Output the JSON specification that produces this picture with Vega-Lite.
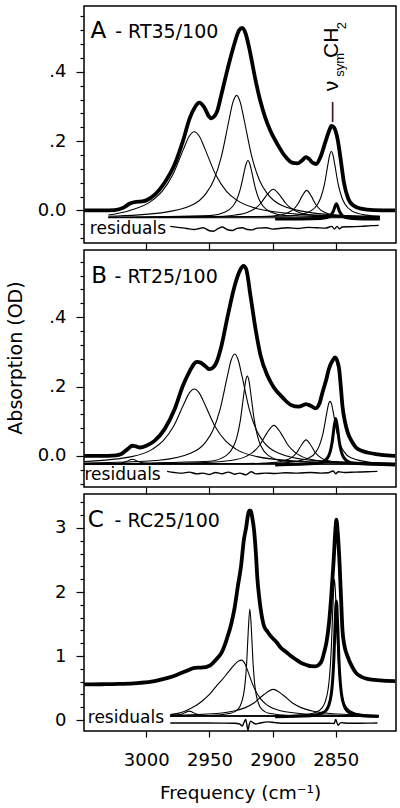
{
"$schema": "https://vega.github.io/schema/vega-lite/v6.json",
"padding": {"left": 5, "top": 5, "right": 4, "bottom": 0},
"spacing": 7,
"bounds": "flush",
"config": {
  "view": {"stroke": "black", "strokeWidth": 1.5},
  "axis": {"labelFont": "DejaVu Sans", "titleFont": "DejaVu Sans", "labelColor": "black", "titleColor": "black", "tickColor": "black", "domain": false, "grid": false, "labelFontSize": 18, "titleFontWeight": "normal", "tickWidth": 1.2}
},
"datasets": {
"A": [
{"s":"tot","f":3049,"v":0},{"s":"tot","f":3035,"v":0},{"s":"tot","f":3025,"v":0.001},{"s":"tot","f":3018,"v":0.008},{"s":"tot","f":3013,"v":0.02},{"s":"tot","f":3008,"v":0.025},{"s":"tot","f":3003,"v":0.026},{"s":"tot","f":3000,"v":0.029},{"s":"tot","f":2993,"v":0.046},{"s":"tot","f":2985.5,"v":0.08},{"s":"tot","f":2977.5,"v":0.133},{"s":"tot","f":2971,"v":0.2},{"s":"tot","f":2965.5,"v":0.267},{"s":"tot","f":2961.5,"v":0.298},{"s":"tot","f":2958,"v":0.311},{"s":"tot","f":2954,"v":0.297},{"s":"tot","f":2950.5,"v":0.272},{"s":"tot","f":2948.5,"v":0.266},{"s":"tot","f":2946,"v":0.272},{"s":"tot","f":2944,"v":0.285},{"s":"tot","f":2940.5,"v":0.335},{"s":"tot","f":2935.5,"v":0.41},{"s":"tot","f":2930,"v":0.484},{"s":"tot","f":2926.5,"v":0.52},{"s":"tot","f":2924,"v":0.527},{"s":"tot","f":2921.5,"v":0.512},{"s":"tot","f":2918,"v":0.46},{"s":"tot","f":2914,"v":0.385},{"s":"tot","f":2910,"v":0.32},{"s":"tot","f":2906,"v":0.27},{"s":"tot","f":2902,"v":0.232},{"s":"tot","f":2896,"v":0.19},{"s":"tot","f":2890,"v":0.156},{"s":"tot","f":2884,"v":0.137},{"s":"tot","f":2880,"v":0.136},{"s":"tot","f":2876.5,"v":0.145},{"s":"tot","f":2873.5,"v":0.154},{"s":"tot","f":2871,"v":0.148},{"s":"tot","f":2868,"v":0.137},{"s":"tot","f":2865.5,"v":0.134},{"s":"tot","f":2862,"v":0.155},{"s":"tot","f":2858,"v":0.2},{"s":"tot","f":2855,"v":0.232},{"s":"tot","f":2853.5,"v":0.244},{"s":"tot","f":2851.5,"v":0.24},{"s":"tot","f":2848.5,"v":0.205},{"s":"tot","f":2846,"v":0.145},{"s":"tot","f":2843.5,"v":0.08},{"s":"tot","f":2840,"v":0.033},{"s":"tot","f":2836,"v":0.014},{"s":"tot","f":2830,"v":0.005},{"s":"tot","f":2820,"v":0.001},{"s":"tot","f":2803,"v":0},
{"s":"c0","f":3030,"v":-0.021},{"s":"c0","f":2815,"v":-0.021},
{"s":"c1","f":3030,"v":-0.013},{"s":"c1","f":3013,"v":0.0},{"s":"c1","f":2996,"v":0.027},{"s":"c1","f":2987.5,"v":0.055},{"s":"c1","f":2979,"v":0.103},{"s":"c1","f":2970.5,"v":0.177},{"s":"c1","f":2966,"v":0.214},{"s":"c1","f":2962,"v":0.227},{"s":"c1","f":2958,"v":0.214},{"s":"c1","f":2953.5,"v":0.177},{"s":"c1","f":2945,"v":0.103},{"s":"c1","f":2936.5,"v":0.055},{"s":"c1","f":2928,"v":0.029},{"s":"c1","f":2911,"v":0.004},{"s":"c1","f":2877,"v":-0.0115},{"s":"c1","f":2845,"v":-0.016},{"s":"c1","f":2815,"v":-0.018},
{"s":"c2","f":3030,"v":-0.017},{"s":"c2","f":2988.5,"v":-0.007},{"s":"c2","f":2964.5,"v":0.014},{"s":"c2","f":2952.5,"v":0.05},{"s":"c2","f":2946.5,"v":0.088},{"s":"c2","f":2940.5,"v":0.156},{"s":"c2","f":2934.5,"v":0.261},{"s":"c2","f":2931.5,"v":0.311},{"s":"c2","f":2928.5,"v":0.332},{"s":"c2","f":2925.5,"v":0.311},{"s":"c2","f":2922.5,"v":0.261},{"s":"c2","f":2916.5,"v":0.156},{"s":"c2","f":2910.5,"v":0.088},{"s":"c2","f":2904.5,"v":0.05},{"s":"c2","f":2892.5,"v":0.014},{"s":"c2","f":2868.5,"v":-0.007},{"s":"c2","f":2840,"v":-0.0146},{"s":"c2","f":2815,"v":-0.017},
{"s":"c3","f":3030,"v":-0.02},{"s":"c3","f":2949.5,"v":-0.015},{"s":"c3","f":2937.5,"v":-0.0045},{"s":"c3","f":2931.5,"v":0.012},{"s":"c3","f":2928.5,"v":0.03},{"s":"c3","f":2925.5,"v":0.062},{"s":"c3","f":2922.5,"v":0.111},{"s":"c3","f":2921,"v":0.134},{"s":"c3","f":2919.5,"v":0.144},{"s":"c3","f":2918,"v":0.134},{"s":"c3","f":2916.5,"v":0.111},{"s":"c3","f":2913.5,"v":0.062},{"s":"c3","f":2910.5,"v":0.03},{"s":"c3","f":2907.5,"v":0.012},{"s":"c3","f":2901.5,"v":-0.0045},{"s":"c3","f":2889.5,"v":-0.015},{"s":"c3","f":2815,"v":-0.02},
{"s":"c4","f":3030,"v":-0.0205},{"s":"c4","f":2949.5,"v":-0.018},{"s":"c4","f":2929.5,"v":-0.013},{"s":"c4","f":2919.5,"v":-0.005},{"s":"c4","f":2914.5,"v":0.004},{"s":"c4","f":2909.5,"v":0.02},{"s":"c4","f":2904.5,"v":0.045},{"s":"c4","f":2899.5,"v":0.061},{"s":"c4","f":2894.5,"v":0.045},{"s":"c4","f":2889.5,"v":0.02},{"s":"c4","f":2884.5,"v":0.004},{"s":"c4","f":2879.5,"v":-0.005},{"s":"c4","f":2869.5,"v":-0.013},{"s":"c4","f":2849.5,"v":-0.018},{"s":"c4","f":2815,"v":-0.0195},
{"s":"c5","f":3030,"v":-0.0205},{"s":"c5","f":2908,"v":-0.018},{"s":"c5","f":2894,"v":-0.013},{"s":"c5","f":2887,"v":-0.005},{"s":"c5","f":2883.5,"v":0.003},{"s":"c5","f":2880,"v":0.0185},{"s":"c5","f":2876.5,"v":0.042},{"s":"c5","f":2873,"v":0.058},{"s":"c5","f":2869.5,"v":0.042},{"s":"c5","f":2866,"v":0.0185},{"s":"c5","f":2862.5,"v":0.003},{"s":"c5","f":2859,"v":-0.005},{"s":"c5","f":2852,"v":-0.013},{"s":"c5","f":2838,"v":-0.018},{"s":"c5","f":2815,"v":-0.0195},
{"s":"c6","f":3030,"v":-0.0205},{"s":"c6","f":2892,"v":-0.017},{"s":"c6","f":2881,"v":-0.0136},{"s":"c6","f":2870,"v":-0.002},{"s":"c6","f":2864.5,"v":0.017},{"s":"c6","f":2861.75,"v":0.038},{"s":"c6","f":2859,"v":0.0745},{"s":"c6","f":2856.25,"v":0.132},{"s":"c6","f":2855,"v":0.157},{"s":"c6","f":2853.5,"v":0.17},{"s":"c6","f":2852,"v":0.157},{"s":"c6","f":2850.75,"v":0.132},{"s":"c6","f":2848,"v":0.0745},{"s":"c6","f":2845.25,"v":0.038},{"s":"c6","f":2842.5,"v":0.017},{"s":"c6","f":2837,"v":-0.002},{"s":"c6","f":2826,"v":-0.0136},{"s":"c6","f":2815,"v":-0.017},
{"s":"k","f":2898,"v":-0.025},{"s":"k","f":2862,"v":-0.023},{"s":"k","f":2857,"v":-0.0206},{"s":"k","f":2854.5,"v":-0.016},{"s":"k","f":2852,"v":-0.003},{"s":"k","f":2849.5,"v":0.019},{"s":"k","f":2847,"v":-0.003},{"s":"k","f":2844.5,"v":-0.016},{"s":"k","f":2842,"v":-0.0206},{"s":"k","f":2837,"v":-0.023},{"s":"k","f":2815,"v":-0.025},
{"s":"r","f":2981,"v":-0.046},{"s":"r","f":2975,"v":-0.049},{"s":"r","f":2968,"v":-0.052},{"s":"r","f":2962,"v":-0.055},{"s":"r","f":2958,"v":-0.052},{"s":"r","f":2955,"v":-0.05},{"s":"r","f":2950.5,"v":-0.058},{"s":"r","f":2947,"v":-0.06},{"s":"r","f":2943,"v":-0.052},{"s":"r","f":2940,"v":-0.048},{"s":"r","f":2936,"v":-0.055},{"s":"r","f":2932,"v":-0.058},{"s":"r","f":2928,"v":-0.052},{"s":"r","f":2924,"v":-0.05},{"s":"r","f":2920,"v":-0.055},{"s":"r","f":2916,"v":-0.056},{"s":"r","f":2912,"v":-0.051},{"s":"r","f":2905,"v":-0.05},{"s":"r","f":2900,"v":-0.054},{"s":"r","f":2895,"v":-0.052},{"s":"r","f":2888,"v":-0.05},{"s":"r","f":2880,"v":-0.052},{"s":"r","f":2872,"v":-0.049},{"s":"r","f":2865,"v":-0.05},{"s":"r","f":2858,"v":-0.051},{"s":"r","f":2853,"v":-0.046},{"s":"r","f":2851,"v":-0.054},{"s":"r","f":2849,"v":-0.046},{"s":"r","f":2847,"v":-0.053},{"s":"r","f":2845,"v":-0.048},{"s":"r","f":2838,"v":-0.047},{"s":"r","f":2830,"v":-0.046},{"s":"r","f":2822,"v":-0.044},{"s":"r","f":2816,"v":-0.043}
],
"B": [
{"s":"tot","f":3049,"v":0},{"s":"tot","f":3030,"v":0},{"s":"tot","f":3024,"v":0.001},{"s":"tot","f":3019.5,"v":0.006},{"s":"tot","f":3014.5,"v":0.02},{"s":"tot","f":3011,"v":0.029},{"s":"tot","f":3008,"v":0.027},{"s":"tot","f":3005,"v":0.024},{"s":"tot","f":3000,"v":0.029},{"s":"tot","f":2993.5,"v":0.043},{"s":"tot","f":2985.5,"v":0.077},{"s":"tot","f":2977.5,"v":0.135},{"s":"tot","f":2971,"v":0.202},{"s":"tot","f":2965.5,"v":0.245},{"s":"tot","f":2962,"v":0.266},{"s":"tot","f":2960,"v":0.271},{"s":"tot","f":2957,"v":0.269},{"s":"tot","f":2953,"v":0.258},{"s":"tot","f":2950,"v":0.25},{"s":"tot","f":2947,"v":0.255},{"s":"tot","f":2944.5,"v":0.269},{"s":"tot","f":2940.5,"v":0.317},{"s":"tot","f":2935.5,"v":0.404},{"s":"tot","f":2930,"v":0.491},{"s":"tot","f":2926,"v":0.534},{"s":"tot","f":2923,"v":0.548},{"s":"tot","f":2921,"v":0.54},{"s":"tot","f":2917.5,"v":0.462},{"s":"tot","f":2913.5,"v":0.366},{"s":"tot","f":2909.5,"v":0.289},{"s":"tot","f":2904,"v":0.231},{"s":"tot","f":2899,"v":0.197},{"s":"tot","f":2892,"v":0.168},{"s":"tot","f":2885.5,"v":0.147},{"s":"tot","f":2879,"v":0.142},{"s":"tot","f":2876,"v":0.146},{"s":"tot","f":2873.5,"v":0.149},{"s":"tot","f":2871.5,"v":0.147},{"s":"tot","f":2869.5,"v":0.144},{"s":"tot","f":2866,"v":0.137},{"s":"tot","f":2863,"v":0.15},{"s":"tot","f":2860.5,"v":0.183},{"s":"tot","f":2857.5,"v":0.22},{"s":"tot","f":2855.5,"v":0.25},{"s":"tot","f":2852.5,"v":0.275},{"s":"tot","f":2850.5,"v":0.284},{"s":"tot","f":2848.5,"v":0.27},{"s":"tot","f":2847.3,"v":0.25},{"s":"tot","f":2846,"v":0.2},{"s":"tot","f":2844.7,"v":0.144},{"s":"tot","f":2842.5,"v":0.095},{"s":"tot","f":2840.5,"v":0.067},{"s":"tot","f":2837,"v":0.04},{"s":"tot","f":2834,"v":0.024},{"s":"tot","f":2829,"v":0.014},{"s":"tot","f":2825,"v":0.0095},{"s":"tot","f":2814,"v":0.003},{"s":"tot","f":2803,"v":0},
{"s":"c0","f":3049,"v":-0.024},{"s":"c0","f":2803,"v":-0.024},
{"s":"c7","f":3049,"v":-0.0235},{"s":"c7","f":3025,"v":-0.0224},{"s":"c7","f":3019,"v":-0.02},{"s":"c7","f":3015,"v":-0.0155},{"s":"c7","f":3013,"v":-0.012},{"s":"c7","f":3011,"v":-0.01},{"s":"c7","f":3009,"v":-0.012},{"s":"c7","f":3007,"v":-0.0155},{"s":"c7","f":3003,"v":-0.02},{"s":"c7","f":2997,"v":-0.0224},{"s":"c7","f":2803,"v":-0.024},
{"s":"c1","f":3049,"v":-0.0164},{"s":"c1","f":3011.5,"v":-0.0023},{"s":"c1","f":2995,"v":0.0194},{"s":"c1","f":2986.75,"v":0.0428},{"s":"c1","f":2978.5,"v":0.0845},{"s":"c1","f":2970.25,"v":0.1496},{"s":"c1","f":2966,"v":0.181},{"s":"c1","f":2962,"v":0.193},{"s":"c1","f":2958,"v":0.181},{"s":"c1","f":2953.75,"v":0.1496},{"s":"c1","f":2945.5,"v":0.0845},{"s":"c1","f":2937.25,"v":0.0428},{"s":"c1","f":2929,"v":0.0194},{"s":"c1","f":2912.5,"v":-0.0023},{"s":"c1","f":2879.5,"v":-0.0157},{"s":"c1","f":2840,"v":-0.0201},{"s":"c1","f":2803,"v":-0.0217},
{"s":"c2","f":3049,"v":-0.021},{"s":"c2","f":2990,"v":-0.0127},{"s":"c2","f":2964.5,"v":0.0078},{"s":"c2","f":2953,"v":0.0396},{"s":"c2","f":2947.25,"v":0.0739},{"s":"c2","f":2941.5,"v":0.135},{"s":"c2","f":2935.75,"v":0.2304},{"s":"c2","f":2932.9,"v":0.2752},{"s":"c2","f":2930,"v":0.294},{"s":"c2","f":2927.1,"v":0.2752},{"s":"c2","f":2924.25,"v":0.2304},{"s":"c2","f":2918.5,"v":0.135},{"s":"c2","f":2912.75,"v":0.0739},{"s":"c2","f":2907,"v":0.0396},{"s":"c2","f":2895.5,"v":0.0078},{"s":"c2","f":2870,"v":-0.0127},{"s":"c2","f":2803,"v":-0.0214},
{"s":"c3","f":3049,"v":-0.0235},{"s":"c3","f":2950,"v":-0.0157},{"s":"c3","f":2936.5,"v":0.0014},{"s":"c3","f":2931,"v":0.0268},{"s":"c3","f":2928.25,"v":0.0542},{"s":"c3","f":2925.5,"v":0.103},{"s":"c3","f":2922.75,"v":0.179},{"s":"c3","f":2921.4,"v":0.215},{"s":"c3","f":2920,"v":0.23},{"s":"c3","f":2918.6,"v":0.215},{"s":"c3","f":2917.25,"v":0.179},{"s":"c3","f":2914.5,"v":0.103},{"s":"c3","f":2911.75,"v":0.0542},{"s":"c3","f":2909,"v":0.0268},{"s":"c3","f":2903.5,"v":0.0014},{"s":"c3","f":2890,"v":-0.0157},{"s":"c3","f":2803,"v":-0.0235},
{"s":"c4","f":3049,"v":-0.0235},{"s":"c4","f":2960,"v":-0.0204},{"s":"c4","f":2932,"v":-0.0128},{"s":"c4","f":2921,"v":-0.0016},{"s":"c4","f":2915.5,"v":0.0105},{"s":"c4","f":2910,"v":0.032},{"s":"c4","f":2904.5,"v":0.0656},{"s":"c4","f":2899,"v":0.088},{"s":"c4","f":2893.5,"v":0.0656},{"s":"c4","f":2888,"v":0.032},{"s":"c4","f":2882.5,"v":0.0105},{"s":"c4","f":2877,"v":-0.0016},{"s":"c4","f":2866,"v":-0.0128},{"s":"c4","f":2840,"v":-0.0203},{"s":"c4","f":2803,"v":-0.0225},
{"s":"c5","f":3049,"v":-0.024},{"s":"c5","f":2930,"v":-0.023},{"s":"c5","f":2908.5,"v":-0.0213},{"s":"c5","f":2894.5,"v":-0.017},{"s":"c5","f":2887.5,"v":-0.01},{"s":"c5","f":2884,"v":-0.0024},{"s":"c5","f":2880.5,"v":0.011},{"s":"c5","f":2877,"v":0.032},{"s":"c5","f":2873.5,"v":0.046},{"s":"c5","f":2870,"v":0.032},{"s":"c5","f":2866.5,"v":0.011},{"s":"c5","f":2863,"v":-0.0024},{"s":"c5","f":2859.5,"v":-0.01},{"s":"c5","f":2852.5,"v":-0.017},{"s":"c5","f":2838.5,"v":-0.0213},{"s":"c5","f":2803,"v":-0.0235},
{"s":"c6","f":3049,"v":-0.024},{"s":"c6","f":2920,"v":-0.0227},{"s":"c6","f":2887.5,"v":-0.0191},{"s":"c6","f":2871,"v":-0.0059},{"s":"c6","f":2865.5,"v":0.0122},{"s":"c6","f":2862.75,"v":0.0317},{"s":"c6","f":2860,"v":0.0665},{"s":"c6","f":2857.25,"v":0.1208},{"s":"c6","f":2855.9,"v":0.1463},{"s":"c6","f":2854.5,"v":0.157},{"s":"c6","f":2853.1,"v":0.1463},{"s":"c6","f":2851.75,"v":0.1208},{"s":"c6","f":2849,"v":0.0665},{"s":"c6","f":2846.25,"v":0.0317},{"s":"c6","f":2843.5,"v":0.0122},{"s":"c6","f":2838,"v":-0.0059},{"s":"c6","f":2821.5,"v":-0.0191},{"s":"c6","f":2803,"v":-0.022},
{"s":"k","f":2898,"v":-0.0265},{"s":"k","f":2864,"v":-0.0218},{"s":"k","f":2858.4,"v":-0.0135},{"s":"k","f":2855.6,"v":0.0},{"s":"k","f":2854.2,"v":0.0146},{"s":"k","f":2852.8,"v":0.0405},{"s":"k","f":2851.4,"v":0.081},{"s":"k","f":2850,"v":0.108},{"s":"k","f":2848.6,"v":0.081},{"s":"k","f":2847.2,"v":0.0405},{"s":"k","f":2845.8,"v":0.0146},{"s":"k","f":2844.4,"v":0.0},{"s":"k","f":2841.6,"v":-0.0135},{"s":"k","f":2836,"v":-0.0218},{"s":"k","f":2803,"v":-0.0265},
{"s":"r","f":2983.5,"v":-0.045},{"s":"r","f":2978,"v":-0.048},{"s":"r","f":2972,"v":-0.05},{"s":"r","f":2966,"v":-0.047},{"s":"r","f":2960,"v":-0.052},{"s":"r","f":2955,"v":-0.05},{"s":"r","f":2950,"v":-0.054},{"s":"r","f":2945,"v":-0.048},{"s":"r","f":2940,"v":-0.052},{"s":"r","f":2935,"v":-0.047},{"s":"r","f":2930,"v":-0.053},{"s":"r","f":2926,"v":-0.05},{"s":"r","f":2921,"v":-0.055},{"s":"r","f":2917,"v":-0.046},{"s":"r","f":2913,"v":-0.052},{"s":"r","f":2906,"v":-0.05},{"s":"r","f":2898,"v":-0.051},{"s":"r","f":2890,"v":-0.049},{"s":"r","f":2880,"v":-0.05},{"s":"r","f":2870,"v":-0.048},{"s":"r","f":2862,"v":-0.05},{"s":"r","f":2856,"v":-0.049},{"s":"r","f":2852,"v":-0.044},{"s":"r","f":2850,"v":-0.052},{"s":"r","f":2848,"v":-0.046},{"s":"r","f":2843,"v":-0.048},{"s":"r","f":2835,"v":-0.047},{"s":"r","f":2825,"v":-0.046},{"s":"r","f":2817,"v":-0.045}
],
"C": [
{"s":"tot","f":3049,"v":0.557},{"s":"tot","f":3035,"v":0.56},{"s":"tot","f":3022,"v":0.565},{"s":"tot","f":3010,"v":0.575},{"s":"tot","f":2996,"v":0.6},{"s":"tot","f":2990,"v":0.625},{"s":"tot","f":2983,"v":0.66},{"s":"tot","f":2976,"v":0.705},{"s":"tot","f":2970,"v":0.754},{"s":"tot","f":2965,"v":0.795},{"s":"tot","f":2961.5,"v":0.816},{"s":"tot","f":2958,"v":0.82},{"s":"tot","f":2955,"v":0.822},{"s":"tot","f":2951,"v":0.84},{"s":"tot","f":2948.5,"v":0.87},{"s":"tot","f":2944.5,"v":0.95},{"s":"tot","f":2940.5,"v":1.05},{"s":"tot","f":2936.5,"v":1.25},{"s":"tot","f":2932.5,"v":1.52},{"s":"tot","f":2930,"v":1.76},{"s":"tot","f":2927.5,"v":2.09},{"s":"tot","f":2925,"v":2.4},{"s":"tot","f":2922.7,"v":2.82},{"s":"tot","f":2921,"v":3.0},{"s":"tot","f":2919.5,"v":3.2},{"s":"tot","f":2918.5,"v":3.27},{"s":"tot","f":2917.5,"v":3.27},{"s":"tot","f":2916,"v":3.15},{"s":"tot","f":2914.7,"v":2.97},{"s":"tot","f":2913.2,"v":2.6},{"s":"tot","f":2912,"v":2.2},{"s":"tot","f":2910.5,"v":1.9},{"s":"tot","f":2909.4,"v":1.73},{"s":"tot","f":2906.8,"v":1.47},{"s":"tot","f":2904,"v":1.38},{"s":"tot","f":2901.5,"v":1.31},{"s":"tot","f":2897,"v":1.22},{"s":"tot","f":2893.5,"v":1.13},{"s":"tot","f":2889,"v":1.06},{"s":"tot","f":2885.5,"v":1.0},{"s":"tot","f":2881,"v":0.94},{"s":"tot","f":2877.5,"v":0.894},{"s":"tot","f":2873,"v":0.86},{"s":"tot","f":2869.8,"v":0.842},{"s":"tot","f":2866,"v":0.84},{"s":"tot","f":2863,"v":0.87},{"s":"tot","f":2861,"v":0.93},{"s":"tot","f":2859.3,"v":1.05},{"s":"tot","f":2857.3,"v":1.22},{"s":"tot","f":2855.3,"v":1.52},{"s":"tot","f":2853.5,"v":1.95},{"s":"tot","f":2851.8,"v":2.45},{"s":"tot","f":2850.5,"v":2.9},{"s":"tot","f":2849.5,"v":3.13},{"s":"tot","f":2848.5,"v":2.95},{"s":"tot","f":2847,"v":2.45},{"s":"tot","f":2845.8,"v":1.9},{"s":"tot","f":2844.7,"v":1.41},{"s":"tot","f":2843,"v":1.15},{"s":"tot","f":2840.7,"v":1.0},{"s":"tot","f":2837.5,"v":0.85},{"s":"tot","f":2834,"v":0.738},{"s":"tot","f":2830,"v":0.68},{"s":"tot","f":2825,"v":0.644},{"s":"tot","f":2815,"v":0.62},{"s":"tot","f":2803,"v":0.608},
{"s":"c0","f":2981,"v":0.062},{"s":"c0","f":2816,"v":0.062},
{"s":"c1","f":2981,"v":0.0698},{"s":"c1","f":2976,"v":0.0776},{"s":"c1","f":2973.5,"v":0.086},{"s":"c1","f":2971,"v":0.101},{"s":"c1","f":2968.5,"v":0.1244},{"s":"c1","f":2966,"v":0.14},{"s":"c1","f":2963.5,"v":0.1244},{"s":"c1","f":2961,"v":0.101},{"s":"c1","f":2958.5,"v":0.086},{"s":"c1","f":2956,"v":0.0776},{"s":"c1","f":2951,"v":0.0698},{"s":"c1","f":2941,"v":0.065},{"s":"c1","f":2816,"v":0.062},
{"s":"c2","f":2981,"v":0.085},{"s":"c2","f":2975,"v":0.105},{"s":"c2","f":2970,"v":0.135},{"s":"c2","f":2965,"v":0.18},{"s":"c2","f":2960,"v":0.235},{"s":"c2","f":2955,"v":0.31},{"s":"c2","f":2950,"v":0.4},{"s":"c2","f":2945,"v":0.52},{"s":"c2","f":2941,"v":0.608},{"s":"c2","f":2937,"v":0.7},{"s":"c2","f":2933,"v":0.8},{"s":"c2","f":2929,"v":0.89},{"s":"c2","f":2926.5,"v":0.925},{"s":"c2","f":2924.5,"v":0.936},{"s":"c2","f":2922,"v":0.884},{"s":"c2","f":2919.5,"v":0.761},{"s":"c2","f":2917,"v":0.621},{"s":"c2","f":2914.5,"v":0.499},{"s":"c2","f":2909.5,"v":0.331},{"s":"c2","f":2904.5,"v":0.237},{"s":"c2","f":2894.5,"v":0.149},{"s":"c2","f":2874.5,"v":0.096},{"s":"c2","f":2850,"v":0.077},{"s":"c2","f":2816,"v":0.069},
{"s":"c3","f":2981,"v":0.065},{"s":"c3","f":2950,"v":0.072},{"s":"c3","f":2933,"v":0.107},{"s":"c3","f":2928,"v":0.16},{"s":"c3","f":2925.5,"v":0.229},{"s":"c3","f":2923,"v":0.397},{"s":"c3","f":2921.75,"v":0.577},{"s":"c3","f":2920.5,"v":0.899},{"s":"c3","f":2919.25,"v":1.4},{"s":"c3","f":2918,"v":1.735},{"s":"c3","f":2916.75,"v":1.4},{"s":"c3","f":2915.5,"v":0.899},{"s":"c3","f":2914.25,"v":0.577},{"s":"c3","f":2913,"v":0.397},{"s":"c3","f":2910.5,"v":0.229},{"s":"c3","f":2908,"v":0.16},{"s":"c3","f":2903,"v":0.107},{"s":"c3","f":2886,"v":0.072},{"s":"c3","f":2855,"v":0.065},{"s":"c3","f":2816,"v":0.064},
{"s":"c4","f":2981,"v":0.076},{"s":"c4","f":2944.5,"v":0.104},{"s":"c4","f":2929.5,"v":0.146},{"s":"c4","f":2922,"v":0.191},{"s":"c4","f":2914.5,"v":0.271},{"s":"c4","f":2907,"v":0.396},{"s":"c4","f":2899.5,"v":0.48},{"s":"c4","f":2892,"v":0.396},{"s":"c4","f":2884.5,"v":0.271},{"s":"c4","f":2877,"v":0.191},{"s":"c4","f":2869.5,"v":0.146},{"s":"c4","f":2854.5,"v":0.104},{"s":"c4","f":2826,"v":0.079},{"s":"c4","f":2816,"v":0.075},
{"s":"c5","f":2981,"v":0.063},{"s":"c5","f":2900,"v":0.068},{"s":"c5","f":2876,"v":0.083},{"s":"c5","f":2866,"v":0.12},{"s":"c5","f":2861,"v":0.188},{"s":"c5","f":2858.5,"v":0.276},{"s":"c5","f":2856,"v":0.49},{"s":"c5","f":2854.75,"v":0.72},{"s":"c5","f":2853.5,"v":1.131},{"s":"c5","f":2852.25,"v":1.77},{"s":"c5","f":2851,"v":2.2},{"s":"c5","f":2849.75,"v":1.77},{"s":"c5","f":2848.5,"v":1.131},{"s":"c5","f":2847.25,"v":0.72},{"s":"c5","f":2846,"v":0.49},{"s":"c5","f":2843.5,"v":0.276},{"s":"c5","f":2841,"v":0.188},{"s":"c5","f":2836,"v":0.12},{"s":"c5","f":2826,"v":0.083},{"s":"c5","f":2816,"v":0.073},
{"s":"k","f":2898,"v":0.053},{"s":"k","f":2870,"v":0.068},{"s":"k","f":2859.5,"v":0.12},{"s":"k","f":2855.5,"v":0.231},{"s":"k","f":2853.5,"v":0.412},{"s":"k","f":2852.5,"v":0.607},{"s":"k","f":2851.5,"v":0.955},{"s":"k","f":2850.5,"v":1.498},{"s":"k","f":2849.5,"v":1.86},{"s":"k","f":2848.5,"v":1.498},{"s":"k","f":2847.5,"v":0.955},{"s":"k","f":2846.5,"v":0.607},{"s":"k","f":2845.5,"v":0.412},{"s":"k","f":2843.5,"v":0.231},{"s":"k","f":2839.5,"v":0.12},{"s":"k","f":2829,"v":0.068},{"s":"k","f":2816,"v":0.057},
{"s":"r","f":2981,"v":-0.045},{"s":"r","f":2960,"v":-0.046},{"s":"r","f":2940,"v":-0.047},{"s":"r","f":2930,"v":-0.05},{"s":"r","f":2926,"v":-0.06},{"s":"r","f":2924,"v":-0.094},{"s":"r","f":2922.5,"v":-0.03},{"s":"r","f":2921.3,"v":0.01},{"s":"r","f":2920.3,"v":-0.08},{"s":"r","f":2919.5,"v":-0.16},{"s":"r","f":2918.5,"v":-0.07},{"s":"r","f":2917.4,"v":-0.016},{"s":"r","f":2915.5,"v":-0.04},{"s":"r","f":2913.4,"v":-0.06},{"s":"r","f":2910,"v":-0.045},{"s":"r","f":2904,"v":-0.027},{"s":"r","f":2898,"v":-0.04},{"s":"r","f":2890,"v":-0.05},{"s":"r","f":2870,"v":-0.05},{"s":"r","f":2855,"v":-0.05},{"s":"r","f":2851.3,"v":-0.052},{"s":"r","f":2850,"v":0.01},{"s":"r","f":2848.2,"v":-0.08},{"s":"r","f":2846,"v":-0.04},{"s":"r","f":2840,"v":-0.05},{"s":"r","f":2825,"v":-0.047},{"s":"r","f":2817,"v":-0.046}
]
},
"vconcat": [
{
 "width": 312, "height": 237,
 "data": {"name": "A"},
 "encoding": {
  "x": {"field": "f", "type": "quantitative", "scale": {"domain": [2802.3, 3049.3], "reverse": true, "nice": false, "zero": false},
        "axis": {"title": null, "labels": false, "values": [3000, 2950, 2900, 2850], "tickSize": 7}},
  "y": {"field": "v", "type": "quantitative", "scale": {"domain": [-0.094, 0.59], "nice": false, "zero": false},
        "axis": {"title": null, "values": [-0.08,-0.04,0,0.04,0.08,0.12,0.16,0.2,0.24,0.28,0.32,0.36,0.4,0.44,0.48,0.52,0.56],
                 "labelExpr": "abs(datum.value*5-round(datum.value*5))<0.001 ? (abs(datum.value)<0.001 ? '0.0' : replace(format(datum.value,'.1f'),'0.','.')) : ''",
                 "tickSize": {"condition": {"test": "abs(datum.value*5-round(datum.value*5))<0.001", "value": 8}, "value": 4},
                 "labelPadding": 10}}
 },
 "layer": [
  {"transform": [{"filter": {"field": "s", "oneOf": ["c0","c1","c2","c3","c4","c5","c6"]}}], "mark": {"type": "line", "color": "black", "strokeWidth": 1.1, "interpolate": "monotone", "clip": true}, "encoding": {"detail": {"field": "s"}}},
  {"transform": [{"filter": {"field": "s", "equal": "k"}}], "mark": {"type": "line", "color": "black", "strokeWidth": 3, "interpolate": "monotone", "clip": true}, "encoding": {}},
  {"transform": [{"filter": {"field": "s", "equal": "r"}}], "mark": {"type": "line", "color": "black", "strokeWidth": 1.4, "interpolate": "monotone", "clip": true}, "encoding": {}},
  {"transform": [{"filter": {"field": "s", "equal": "tot"}}], "mark": {"type": "line", "color": "black", "strokeWidth": 3.8, "interpolate": "monotone", "clip": true}, "encoding": {}},
  {"transform": [{"filter": "datum.s=='c0' && datum.f>2900"}], "mark": {"type": "text", "text": "A", "font": "DejaVu Sans", "fontSize": 23, "align": "left", "baseline": "alphabetic", "color": "black"}, "encoding": {"x": {"datum": 3044.1}, "y": {"datum": 0.498}}},
  {"transform": [{"filter": "datum.s=='c0' && datum.f>2900"}], "mark": {"type": "text", "text": "- RT35/100", "font": "DejaVu Sans", "fontSize": 19, "align": "left", "baseline": "alphabetic", "color": "black"}, "encoding": {"x": {"datum": 3024.6}, "y": {"datum": 0.498}}},
  {"transform": [{"filter": "datum.s=='c0' && datum.f>2900"}], "mark": {"type": "text", "text": "residuals", "font": "DejaVu Sans", "fontSize": 17, "align": "left", "baseline": "alphabetic", "color": "black"}, "encoding": {"x": {"datum": 3044.7}, "y": {"datum": -0.068}}},
  {"transform": [{"filter": "datum.s=='c0' && datum.f>2900"}], "mark": {"type": "text", "text": "—", "font": "Liberation Sans", "fontSize": 20, "angle": 270, "align": "left", "baseline": "alphabetic", "color": "black"}, "encoding": {"x": {"datum": 2848.0}, "y": {"datum": 0.255}}},
  {"transform": [{"filter": "datum.s=='c0' && datum.f>2900"}], "mark": {"type": "text", "text": "ν", "font": "Liberation Sans", "fontSize": 21, "angle": 270, "align": "left", "baseline": "alphabetic", "color": "black"}, "encoding": {"x": {"datum": 2848.0}, "y": {"datum": 0.344}}},
  {"transform": [{"filter": "datum.s=='c0' && datum.f>2900"}], "mark": {"type": "text", "text": "sym", "font": "Liberation Sans", "fontSize": 13, "angle": 270, "align": "left", "baseline": "alphabetic", "color": "black"}, "encoding": {"x": {"datum": 2843.3}, "y": {"datum": 0.386}}},
  {"transform": [{"filter": "datum.s=='c0' && datum.f>2900"}], "mark": {"type": "text", "text": "CH", "font": "Liberation Sans", "fontSize": 21, "angle": 270, "align": "left", "baseline": "alphabetic", "color": "black"}, "encoding": {"x": {"datum": 2848.0}, "y": {"datum": 0.44}}},
  {"transform": [{"filter": "datum.s=='c0' && datum.f>2900"}], "mark": {"type": "text", "text": "2", "font": "Liberation Sans", "fontSize": 13, "angle": 270, "align": "left", "baseline": "alphabetic", "color": "black"}, "encoding": {"x": {"datum": 2842.1}, "y": {"datum": 0.523}}}
 ]
},
{
 "width": 312, "height": 237,
 "data": {"name": "B"},
 "encoding": {
  "x": {"field": "f", "type": "quantitative", "scale": {"domain": [2802.3, 3049.3], "reverse": true, "nice": false, "zero": false},
        "axis": {"title": null, "labels": false, "values": [3000, 2950, 2900, 2850], "tickSize": 7}},
  "y": {"field": "v", "type": "quantitative", "scale": {"domain": [-0.09, 0.594], "nice": false, "zero": false},
        "axis": {"title": "Absorption (OD)", "titleFontSize": 19, "titlePadding": 12, "titleY": 107.5, "values": [-0.08,-0.04,0,0.04,0.08,0.12,0.16,0.2,0.24,0.28,0.32,0.36,0.4,0.44,0.48,0.52,0.56],
                 "labelExpr": "abs(datum.value*5-round(datum.value*5))<0.001 ? (abs(datum.value)<0.001 ? '0.0' : replace(format(datum.value,'.1f'),'0.','.')) : ''",
                 "tickSize": {"condition": {"test": "abs(datum.value*5-round(datum.value*5))<0.001", "value": 8}, "value": 4},
                 "labelPadding": 10}}
 },
 "layer": [
  {"transform": [{"filter": {"field": "s", "oneOf": ["c0","c1","c2","c3","c4","c5","c6","c7"]}}], "mark": {"type": "line", "color": "black", "strokeWidth": 1.1, "interpolate": "monotone", "clip": true}, "encoding": {"detail": {"field": "s"}}},
  {"transform": [{"filter": {"field": "s", "equal": "k"}}], "mark": {"type": "line", "color": "black", "strokeWidth": 3, "interpolate": "monotone", "clip": true}, "encoding": {}},
  {"transform": [{"filter": {"field": "s", "equal": "r"}}], "mark": {"type": "line", "color": "black", "strokeWidth": 1.4, "interpolate": "monotone", "clip": true}, "encoding": {}},
  {"transform": [{"filter": {"field": "s", "equal": "tot"}}], "mark": {"type": "line", "color": "black", "strokeWidth": 3.8, "interpolate": "monotone", "clip": true}, "encoding": {}},
  {"transform": [{"filter": "datum.s=='c0' && datum.f>2900"}], "mark": {"type": "text", "text": "B", "font": "DejaVu Sans", "fontSize": 23, "align": "left", "baseline": "alphabetic", "color": "black"}, "encoding": {"x": {"datum": 3043.6}, "y": {"datum": 0.5}}},
  {"transform": [{"filter": "datum.s=='c0' && datum.f>2900"}], "mark": {"type": "text", "text": "- RT25/100", "font": "DejaVu Sans", "fontSize": 19, "align": "left", "baseline": "alphabetic", "color": "black"}, "encoding": {"x": {"datum": 3025.1}, "y": {"datum": 0.5}}},
  {"transform": [{"filter": "datum.s=='c0' && datum.f>2900"}], "mark": {"type": "text", "text": "residuals", "font": "DejaVu Sans", "fontSize": 17, "align": "left", "baseline": "alphabetic", "color": "black"}, "encoding": {"x": {"datum": 3048.9}, "y": {"datum": -0.0707}}}
 ]
},
{
 "width": 312, "height": 237,
 "data": {"name": "C"},
 "encoding": {
  "x": {"field": "f", "type": "quantitative", "scale": {"domain": [2802.3, 3049.3], "reverse": true, "nice": false, "zero": false},
        "axis": {"title": "Frequency (cm⁻¹)", "titleFontSize": 18.5, "titlePadding": 14, "format": "d", "values": [3000, 2950, 2900, 2850], "tickSize": 6, "labelPadding": 14}},
  "y": {"field": "v", "type": "quantitative", "scale": {"domain": [-0.17, 3.53], "nice": false, "zero": false},
        "axis": {"title": null, "values": [0,0.2,0.4,0.6,0.8,1,1.2,1.4,1.6,1.8,2,2.2,2.4,2.6,2.8,3,3.2,3.4],
                 "labelExpr": "abs(datum.value-round(datum.value))<0.001 ? format(datum.value,'d') : ''",
                 "tickSize": {"condition": {"test": "abs(datum.value-round(datum.value))<0.001", "value": 8}, "value": 4},
                 "labelPadding": 10}}
 },
 "layer": [
  {"transform": [{"filter": {"field": "s", "oneOf": ["c0","c1","c2","c3","c4","c5"]}}], "mark": {"type": "line", "color": "black", "strokeWidth": 1.1, "interpolate": "monotone", "clip": true}, "encoding": {"detail": {"field": "s"}}},
  {"transform": [{"filter": {"field": "s", "equal": "k"}}], "mark": {"type": "line", "color": "black", "strokeWidth": 3, "interpolate": "monotone", "clip": true}, "encoding": {}},
  {"transform": [{"filter": {"field": "s", "equal": "r"}}], "mark": {"type": "line", "color": "black", "strokeWidth": 1.4, "interpolate": "monotone", "clip": true}, "encoding": {}},
  {"transform": [{"filter": {"field": "s", "equal": "tot"}}], "mark": {"type": "line", "color": "black", "strokeWidth": 3.8, "interpolate": "monotone", "clip": true}, "encoding": {}},
  {"transform": [{"filter": "datum.s=='c0' && datum.f>2900"}], "mark": {"type": "text", "text": "C", "font": "DejaVu Sans", "fontSize": 23, "align": "left", "baseline": "alphabetic", "color": "black"}, "encoding": {"x": {"datum": 3046.3}, "y": {"datum": 3.02}}},
  {"transform": [{"filter": "datum.s=='c0' && datum.f>2900"}], "mark": {"type": "text", "text": "- RC25/100", "font": "DejaVu Sans", "fontSize": 19, "align": "left", "baseline": "alphabetic", "color": "black"}, "encoding": {"x": {"datum": 3025.1}, "y": {"datum": 3.02}}},
  {"transform": [{"filter": "datum.s=='c0' && datum.f>2900"}], "mark": {"type": "text", "text": "residuals", "font": "DejaVu Sans", "fontSize": 17, "align": "left", "baseline": "alphabetic", "color": "black"}, "encoding": {"x": {"datum": 3046.3}, "y": {"datum": -0.047}}}
 ]
}
]
}
